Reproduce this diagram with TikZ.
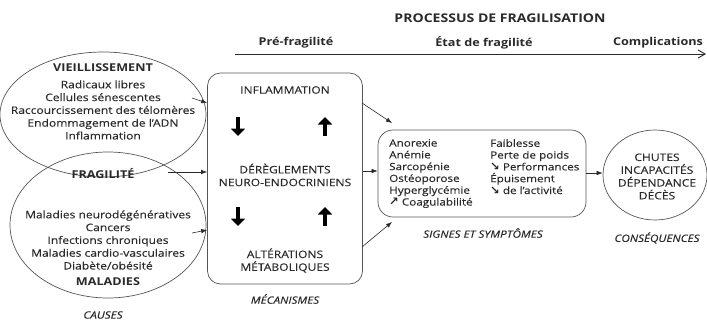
\documentclass[tikz,border=0pt]{standalone}
\usepackage{fontspec}
\setmainfont{Open Sans}[FakeStretch=1.17, UprightFeatures={FakeBold=0.2}, ItalicFeatures={FakeBold=0.2}]
\newfontfamily\symfont{DejaVu Sans}
\usetikzlibrary{shapes.geometric,arrows.meta}
\definecolor{ink}{HTML}{2A2A2A}
\definecolor{edge}{HTML}{555555}
\newcommand{\dirarr}[1]{{\symfont\bfseries\fontsize{11.5}{11.8}\selectfont #1}}
\begin{document}
\begin{tikzpicture}[x=1pt,y=-1pt,
  every node/.style={text=ink},
  lbl/.style={inner sep=0pt, align=center, font=\fontsize{10.3}{12.8}\selectfont},
  hdr/.style={inner sep=0pt, font=\bfseries\fontsize{10.8}{13}\selectfont},
  ttl/.style={inner sep=0pt, font=\bfseries\fontsize{12}{14}\selectfont},
  capt/.style={inner sep=0pt, font=\itshape\fontsize{10}{12}\selectfont},
  sym/.style={inner sep=0pt, align=left, font=\fontsize{10}{11.8}\selectfont},
  outline/.style={draw=edge, line width=0.7pt},
  conn/.style={draw=ink, line width=0.6pt, -{Latex[length=6pt,width=4.5pt]}},
  timeline/.style={draw=ink, line width=0.9pt, -{Straight Barb[length=7pt,width=8pt]}},
  bigarrow/.style={draw=black, line width=3.8pt, -{Triangle[length=7.5pt,width=14pt]}}
]
\useasboundingbox (0,0) rectangle (707,325);

% title and timeline
\node[ttl] (title) at (500,18) {PROCESSUS DE FRAGILISATION};
\node[hdr] (pre) at (296,43) {Pré-fragilité};
\node[hdr] (etat) at (484,43) {État de fragilité};
\node[hdr] (compl) at (658,43) {Complications};
\coordinate (tl0) at (235,54);
\coordinate (tl1) at (706,54);
\draw[timeline] (tl0) -- (tl1);

% causes
\node[outline, ellipse, inner sep=0pt, minimum width=206pt, minimum height=125pt] (vie) at (103,114.5) {};
\node[outline, ellipse, inner sep=0pt, minimum width=196pt, minimum height=146pt] (mal) at (108,225) {};
\node[hdr] (vieT) at (103,68) {VIEILLISSEMENT};
\node[lbl] (vieL) at (103,110) {Radicaux libres\\Cellules sénescentes\\Raccourcissement des télomères\\Endommagement de l'ADN\\Inflammation};
\node[hdr] (fra) at (103,174) {FRAGILITÉ};
\node[lbl] (malL) at (108,240) {Maladies neurodégénératives\\Cancers\\Infections chroniques\\Maladies cardio-vasculaires\\Diabète/obésité};
\node[hdr] (malT) at (108,282) {MALADIES};
\node[capt] (causes) at (103,315) {CAUSES};

% mechanisms
\node[outline, rounded corners=13pt, minimum width=155pt, minimum height=211pt, inner sep=0pt] (mech) at (285,178.5) {};
\node[lbl] (infl) at (285,90) {INFLAMMATION};
\node[lbl] (dereg) at (285,175) {DÉRÈGLEMENTS\\NEURO-ENDOCRINIENS};
\node[lbl] (alter) at (285,260.5) {ALTÉRATIONS\\MÉTABOLIQUES};
\node[capt] (mecaT) at (285,299) {MÉCANISMES};
\coordinate (d1a) at (238,117); \coordinate (d1b) at (238,136);
\coordinate (u1a) at (325,136); \coordinate (u1b) at (325,117);
\coordinate (d2a) at (238,207); \coordinate (d2b) at (238,226);
\coordinate (u2a) at (325,226); \coordinate (u2b) at (325,207);
\draw[bigarrow] (d1a) -- (d1b);
\draw[bigarrow] (u1a) -- (u1b);
\draw[bigarrow] (d2a) -- (d2b);
\draw[bigarrow] (u2a) -- (u2b);

% cause arrows
\coordinate (c1) at (192,98);
\coordinate (c2) at (168,172);
\coordinate (c3) at (192,233);
\draw[conn] (c1) -- (mech.west |- 0,103);
\draw[conn] (c2) -- (mech.west |- c2);
\draw[conn] (c3) -- (mech.west |- 0,230);

% signs and symptoms
\node[outline, rounded corners=15pt, minimum width=208pt, minimum height=87pt, inner sep=0pt] (sig) at (482,173.5) {};
\node[sym, anchor=north west] (sigL) at (389,139) {Anorexie\\Anémie\\Sarcopénie\\Ostéoporose\\Hyperglycémie\\\dirarr{↗} Coagulabilité};
\node[sym, anchor=north west] (sigR) at (490,139) {Faiblesse\\Perte de poids\\\dirarr{↘} Performances\\Épuisement\\\dirarr{↘} de l'activité};
\node[capt] (sigT) at (483,233) {SIGNES ET SYMPTÔMES};

\coordinate (m1) at (362,103);
\coordinate (m3) at (362,247);
\coordinate (s1) at (392,123);
\coordinate (s3) at (392,222);
\draw[conn] (m1) -- (s1);
\draw[conn] (mech.east |- 0,171) -- (sig.west |- 0,171);
\draw[conn] (m3) -- (s3);

% consequences
\node[outline, ellipse, inner sep=0pt, minimum width=104pt, minimum height=90pt] (cons) at (655,175) {};
\node[lbl] (consL) at (657,176.5) {CHUTES\\INCAPACITÉS\\DÉPENDANCE\\DÉCÈS};
\node[capt] (consT) at (657,238) {CONSÉQUENCES};
\draw[conn] (sig.east |- 0,173) -- (cons.west |- 0,173);
\end{tikzpicture}
\end{document}
